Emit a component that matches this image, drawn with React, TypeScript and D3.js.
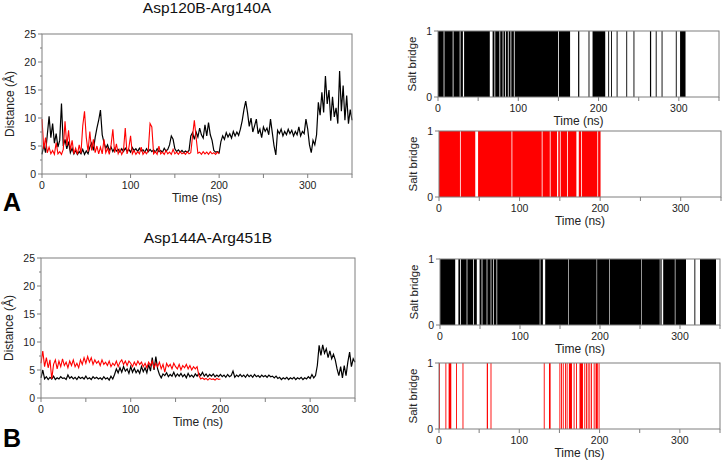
import * as d3 from "d3";

// sampling step of the distance traces (ns)
const STEP = 2;
const FONT = "'Liberation Sans', Arial, Helvetica, sans-serif";

// Asp120B-Arg140A distance (Å), black: 0..350 ns, red: 0..200 ns
const distA_black = [
  3.5, 5.2, 3.8, 7.0, 10.3, 6.5, 9.0, 5.5, 7.2, 4.8, 6.0, 12.6, 5.0, 6.2, 4.5, 5.8,
  3.8, 4.6, 3.6, 4.2, 3.5, 4.0, 3.6, 4.4, 3.5, 4.1, 3.6, 4.8, 5.5, 4.2, 6.5, 8.2,
  9.6, 11.4, 7.0, 5.6, 4.6, 5.2, 4.2, 4.8, 4.0, 4.6, 4.1, 4.4, 3.9, 4.5, 4.0, 4.6,
  4.1, 4.4, 3.9, 4.7, 4.2, 4.5, 4.0, 4.6, 4.1, 4.3, 3.9, 4.5, 4.0, 4.4, 4.0, 4.3,
  3.9, 4.5, 4.0, 4.2, 3.9, 4.6, 4.1, 4.4, 5.2, 6.8, 6.2, 4.5, 4.0, 4.3, 3.9, 4.2,
  3.8, 4.1, 3.9, 4.2, 6.8, 7.4, 6.2, 7.5, 6.6, 8.2, 7.0, 6.4, 8.8, 6.8, 9.2, 7.0,
  6.0, 4.2, 3.9, 4.0, 3.8, 5.8, 6.8, 6.2, 7.4, 6.6, 7.2, 6.4, 7.6, 6.8, 7.5, 6.9,
  8.0, 9.5, 11.5, 13.0, 11.0, 8.5, 10.0, 7.5, 8.6, 9.8, 7.2, 8.0, 6.5, 8.4, 7.6, 8.2,
  7.0, 9.8, 7.4, 5.0, 3.4, 7.8, 7.2, 8.0, 6.8, 7.6, 7.0, 8.0, 7.2, 7.8, 6.8, 7.6,
  7.0, 8.4, 6.8, 7.6, 7.2, 9.8, 8.0, 5.2, 3.8, 6.0, 5.2, 7.0, 12.8, 10.5, 14.6, 11.0,
  17.5, 12.5, 15.0, 9.5, 13.8, 10.2, 11.8, 9.0, 18.4, 11.2, 15.8, 9.6, 14.0, 9.0, 11.5, 9.6,
];
const distA_red = [
  9.8, 4.5, 6.5, 3.8, 4.8, 3.6, 4.2, 3.5, 5.6, 3.6, 4.0, 3.5, 4.4, 9.4, 5.0, 7.8,
  4.2, 6.0, 3.6, 4.6, 3.5, 5.2, 3.7, 8.6, 11.2, 6.5, 4.0, 7.6, 4.2, 6.2, 3.8, 5.0,
  3.6, 4.8, 3.6, 6.2, 3.8, 4.6, 3.5, 5.2, 8.0, 3.8, 5.4, 3.6, 4.4, 3.5, 4.2, 8.2,
  3.6, 4.6, 6.8, 3.6, 4.2, 3.5, 4.0, 3.6, 4.8, 3.5, 4.0, 3.6, 4.2, 9.0, 8.4, 3.6,
  4.0, 3.5, 5.0, 3.6, 3.9, 3.5, 4.2, 3.6, 3.9, 3.5, 4.4, 3.6, 3.9, 3.5, 4.0, 3.6,
  3.8, 3.5, 4.0, 3.6, 3.8, 6.8, 9.6, 6.5, 3.7, 3.9, 3.5, 4.0, 3.6, 3.9, 3.5, 4.0,
  3.6, 3.8, 3.5, 3.9, 3.6,
];

// Asp144A-Arg451B distance (Å)
const distB_black = [
  3.6, 5.0, 3.4, 3.8, 3.3, 3.7, 3.4, 3.9, 3.3, 3.6, 3.4, 3.8, 3.5, 3.6, 3.3, 4.1,
  3.5, 3.8, 3.4, 3.7, 3.3, 3.8, 3.5, 3.7, 3.4, 3.9, 3.4, 3.6, 3.3, 3.8, 3.5, 3.7,
  3.4, 3.6, 3.3, 3.8, 3.4, 3.6, 3.2, 3.9, 3.4, 4.2, 5.2, 4.5, 5.4, 4.6, 5.6, 4.8,
  5.2, 4.4, 5.6, 4.6, 5.3, 4.5, 5.0, 4.4, 5.6, 4.7, 5.4, 4.5, 6.0, 4.8, 7.2, 5.0,
  7.4, 5.2, 4.2, 3.6, 4.3, 4.0, 4.5, 3.8, 4.2, 3.9, 4.6, 3.8, 4.3, 3.9, 4.4, 3.8,
  4.2, 3.6, 4.4, 3.8, 4.1, 3.7, 4.3, 3.9, 4.4, 4.0, 4.6, 3.9, 4.3, 3.8, 4.2, 3.9,
  4.3, 3.8, 4.1, 3.8, 4.2, 3.8, 4.1, 3.7, 4.2, 3.8, 4.0, 4.8, 3.7, 4.1, 3.8, 4.2,
  3.8, 4.1, 3.7, 4.2, 3.8, 4.1, 3.7, 4.2, 3.8, 4.0, 3.7, 4.1, 3.8, 4.0, 3.7, 4.1,
  3.8, 3.9, 3.6, 3.9, 3.5, 3.7, 3.3, 3.6, 3.4, 3.7, 3.3, 3.6, 3.4, 3.7, 3.3, 3.6,
  3.4, 3.7, 3.3, 3.6, 3.4, 3.8, 3.5, 4.2, 3.6, 4.0, 5.8, 9.4, 7.6, 9.5, 8.0, 8.8,
  7.2, 8.4, 7.0, 7.8, 6.8, 5.2, 4.0, 5.6, 3.6, 5.8, 4.0, 6.4, 8.2, 5.6, 7.0, 6.4,
];
const distB_red = [
  6.2, 8.4, 5.6, 7.2, 5.4, 6.8, 3.4, 6.0, 6.8, 5.2, 6.6, 5.6, 7.0, 5.8, 6.4, 5.4,
  6.6, 5.8, 6.8, 5.6, 6.2, 5.4, 6.8, 6.0, 7.2, 6.2, 7.4, 6.4, 7.2, 6.0, 6.8, 6.2,
  6.6, 5.8, 6.8, 6.0, 6.4, 5.8, 6.6, 5.6, 6.2, 5.8, 6.6, 5.6, 6.4, 6.8, 6.0, 6.6,
  5.8, 6.6, 6.2, 5.6, 6.4, 5.8, 6.6, 6.0, 6.4, 5.6, 6.2, 5.4, 6.4, 5.8, 6.6, 5.4,
  6.2, 5.6, 6.4, 5.2, 6.0, 4.6, 6.2, 5.6, 6.0, 5.2, 6.2, 5.6, 5.2, 6.0, 5.0, 5.8,
  5.4, 6.0, 5.2, 5.8, 5.0, 5.6, 5.2, 5.6, 4.0, 3.4, 3.6, 3.3, 3.5, 3.2, 3.5, 3.3,
  3.4, 3.2, 3.5, 3.3, 3.4,
];

// salt bridge "on" intervals [start, end] in ns
const saltA_black = [
  [0, 7], [8, 18.3], [19.3, 27], [28, 31], [32.5, 64.5], [68, 70.3], [71.3, 76.5],
  [77.5, 80.5], [81.5, 83.5], [84.5, 87], [88, 90.3], [91.3, 94.5], [95.5, 149.5],
  [150.5, 164.5], [174.5, 176], [187.5, 188.5], [192.5, 208.3], [212, 213],
  [215.5, 216.5], [222.5, 223.5], [234.5, 235.5], [243.5, 244.5], [264, 265.5],
  [271.2, 272.2], [278.5, 279.5], [296.2, 297.2], [301.5, 308.3],
];
const saltA_red = [
  [0, 26], [27, 45], [48.5, 90], [91, 127.5], [128.5, 137.5], [138.5, 146.5],
  [148, 150], [151, 159], [160, 170.5], [173.5, 176.5], [177.5, 196.5], [197.5, 200.5],
];
const saltB_black = [
  [0, 19], [23, 25], [26, 33.3], [34.2, 41.5], [42.5, 46], [49.5, 52], [53, 58.3],
  [59.2, 63.3], [64.2, 66.6], [67.5, 70.6], [71.5, 124.6], [125.5, 128.6],
  [131.5, 160.3], [161, 195.7], [196.4, 211.5], [212.2, 251.7], [252.4, 274.7],
  [275.5, 277], [279, 293.5], [294.3, 307.5], [318, 319], [325, 345],
];
const saltB_red = [
  [0, 0.8], [8, 8.8], [12, 15.3], [21.3, 22.1], [29.3, 30.1], [59.5, 61], [64.2, 65],
  [130.5, 131.3], [137, 139], [150, 150.8], [152, 152.8], [154.2, 155], [157, 157.8],
  [159, 159.8], [161.8, 165.6], [167.7, 168.5], [170.7, 171.5], [175, 179.3],
  [181, 181.8], [183.1, 183.9], [185.2, 186], [187.3, 188.1], [189.3, 190.1],
  [192.7, 193.5], [195, 197.8], [198.8, 199.8],
];

const xTicks = [0, 50, 100, 150, 200, 250, 300, 350];
const xLabels = [0, 100, 200, 300];
const distTicks = [0, 5, 10, 15, 20, 25];
const distMinor = [2.5, 7.5, 12.5, 17.5, 22.5];
const FRAME = "#7f7f7f";

const toPoints = (vals: number[]) => vals.map((v, i) => [i * STEP, v] as [number, number]);

function XAxis({ x, yb }: { x: d3.ScaleLinear<number, number>; yb: number }) {
  return (
    <g>
      {xTicks.map((t) => (
        <line key={t} x1={x(t)} x2={x(t)} y1={yb} y2={yb + 4} stroke={FRAME} />
      ))}
      {xLabels.map((t) => (
        <text key={t} x={x(t)} y={yb + 15} fontSize={10.5} textAnchor="middle" fill="#222">
          {t}
        </text>
      ))}
      <text x={(x.range()[0] + x.range()[1]) / 2} y={yb + 28} fontSize={12} textAnchor="middle" fill="#222">
        Time (ns)
      </text>
    </g>
  );
}

function DistancePanel({ x0, x1, yt, yb, title, titleY, letter, letterY, black, red }: any) {
  const x = d3.scaleLinear().domain([0, 350]).range([x0, x1]);
  const y = d3.scaleLinear().domain([0, 25]).range([yb, yt]);
  const line = d3
    .line<[number, number]>()
    .x((d) => x(d[0]))
    .y((d) => y(d[1]));
  return (
    <g fontFamily={FONT}>
      <text x={(x0 + x1) / 2 + 10} y={titleY} fontSize={15.5} textAnchor="middle" fill="#111">
        {title}
      </text>
      <path d={line(toPoints(black)) || ""} fill="none" stroke="#000" strokeWidth={1.2} />
      <path d={line(toPoints(red)) || ""} fill="none" stroke="#ff0000" strokeWidth={1.1} />
      <rect x={x0} y={yt} width={x1 - x0} height={yb - yt} fill="none" stroke={FRAME} />
      {distTicks.map((t) => (
        <g key={t}>
          <line x1={x0 - 4} x2={x0} y1={y(t)} y2={y(t)} stroke={FRAME} />
          <text x={x0 - 6} y={y(t) + 3.5} fontSize={10.5} textAnchor="end" fill="#222">
            {t}
          </text>
        </g>
      ))}
      {distMinor.map((t) => (
        <line key={t} x1={x0 - 2} x2={x0} y1={y(t)} y2={y(t)} stroke={FRAME} />
      ))}
      <XAxis x={x} yb={yb} />
      <text
        transform={`translate(${x0 - 28},${(yt + yb) / 2}) rotate(-90)`}
        fontSize={12}
        textAnchor="middle"
        fill="#222"
      >
        Distance (Å)
      </text>
      <text x={3} y={letterY} fontSize={25} fontWeight="bold" fill="#000">
        {letter}
      </text>
    </g>
  );
}

function SaltPanel({ x0, x1, yt, yb, color, intervals }: any) {
  const x = d3.scaleLinear().domain([0, 350]).range([x0, x1]);
  const y = d3.scaleLinear().domain([0, 1]).range([yb, yt]);
  return (
    <g fontFamily={FONT}>
      {intervals.map(([a, b]: number[], i: number) => (
        <rect
          key={i}
          x={x(a)}
          y={y(1)}
          width={Math.max(0.9, x(b) - x(a))}
          height={y(0) - y(1)}
          fill={color}
        />
      ))}
      <rect x={x0} y={yt} width={x1 - x0} height={yb - yt} fill="none" stroke={FRAME} />
      {[0, 1].map((t) => (
        <g key={t}>
          <line x1={x0 - 4} x2={x0} y1={y(t)} y2={y(t)} stroke={FRAME} />
          <text x={x0 - 6} y={y(t) + 3.5} fontSize={10.5} textAnchor="end" fill="#222">
            {t}
          </text>
        </g>
      ))}
      <XAxis x={x} yb={yb} />
      <text
        transform={`translate(${x0 - 22},${(yt + yb) / 2}) rotate(-90)`}
        fontSize={11.5}
        textAnchor="middle"
        fill="#222"
      >
        Salt bridge
      </text>
    </g>
  );
}

export default function App() {
  return (
    <svg
      width={725}
      height={463}
      style={{ position: "absolute", left: 0, top: 0, background: "#fff" }}
    >
      <DistancePanel
        x0={42} x1={352} yt={34} yb={174}
        title="Asp120B-Arg140A" titleY={13}
        letter="A" letterY={211}
        black={distA_black} red={distA_red}
      />
      <DistancePanel
        x0={41} x1={355} yt={258} yb={398}
        title="Asp144A-Arg451B" titleY={243}
        letter="B" letterY={447}
        black={distB_black} red={distB_red}
      />
      <SaltPanel x0={438} x1={719} yt={31} yb={97} color="#000" intervals={saltA_black} />
      <SaltPanel x0={439} x1={721} yt={131} yb={197} color="#ff0000" intervals={saltA_red} />
      <SaltPanel x0={440} x1={720} yt={259} yb={325} color="#000" intervals={saltB_black} />
      <SaltPanel x0={439} x1={720} yt={363} yb={429} color="#ff0000" intervals={saltB_red} />
    </svg>
  );
}
